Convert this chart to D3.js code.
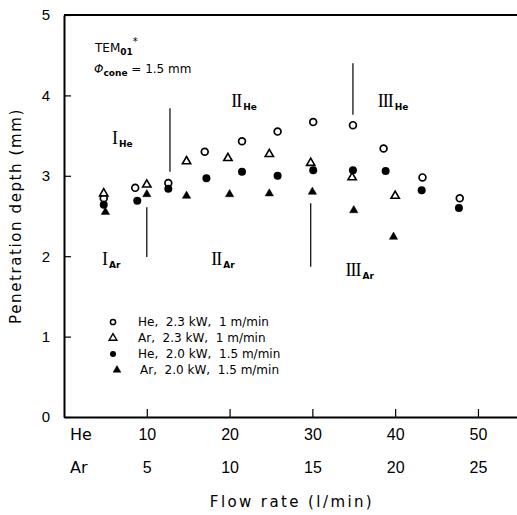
<!DOCTYPE html>
<html>
<head>
<meta charset="utf-8">
<script src="https://cdn.jsdelivr.net/npm/d3@7"></script>
<style>
  html, body { margin: 0; padding: 0; background: #fff; }
  svg { display: block; font-family: 'DejaVu Sans', sans-serif; }
  .legend text { white-space: pre; }
</style>
</head>
<body>
<div id="chart"></div>
<script>
// flow rates in l/min of the gas named, depth in mm
const heFlow23 = [4.8, 8.6, 12.6, 17.0, 21.5, 25.8, 30.1, 34.9, 38.6, 43.3, 47.8];
const heDepth23 = [2.72, 2.85, 2.91, 3.30, 3.43, 3.55, 3.67, 3.63, 3.34, 2.98, 2.72];
const arFlow23 = [2.4, 5.0, 7.4, 9.9, 12.4, 14.9, 17.4, 20.0];
const arDepth23 = [2.78, 2.89, 3.18, 3.22, 3.27, 3.16, 2.98, 2.75];
const heFlow20 = [4.8, 8.85, 12.6, 17.2, 21.5, 25.8, 30.1, 34.9, 38.85, 43.2, 47.7];
const heDepth20 = [2.64, 2.69, 2.84, 2.97, 3.05, 3.00, 3.07, 3.07, 3.06, 2.82, 2.60];
const arFlow20 = [2.5, 5.0, 7.4, 10.0, 12.4, 15.0, 17.5, 19.9];
const arDepth20 = [2.55, 2.77, 2.75, 2.77, 2.78, 2.80, 2.57, 2.24];

const heTicks = [10, 20, 30, 40, 50];
const arTicks = [5, 10, 15, 20, 25];
const depthTicks = [0, 1, 2, 3, 4, 5];

const seriesNames = ['He,  2.3 kW,  1 m/min', 'Ar,  2.3 kW,  1 m/min', 'He,  2.0 kW,  1.5 m/min', 'Ar,  2.0 kW,  1.5 m/min'];

// regime boundaries and labels
const boundaries = [
  { gas: 'He', flow: 12.8, from: 3.05, to: 3.84 },
  { gas: 'He', flow: 34.9, from: 3.76, to: 4.40 },
  { gas: 'Ar', flow: 5.0, from: 1.99, to: 2.61 },
  { gas: 'Ar', flow: 14.9, from: 1.87, to: 2.66 }
];
const regimes = [
  { numeral: 'I', gas: 'He', flow: 5.8, depth: 3.39 },
  { numeral: 'II', gas: 'He', flow: 20.2, depth: 3.86 },
  { numeral: 'III', gas: 'He', flow: 37.9, depth: 3.86 },
  { numeral: 'I', gas: 'Ar', flow: 2.3, depth: 1.89 },
  { numeral: 'II', gas: 'Ar', flow: 8.9, depth: 1.89 },
  { numeral: 'III', gas: 'Ar', flow: 17.0, depth: 1.75 }
];

const width = 517;
const height = 515;

const svg = d3.select('#chart').append('svg')
  .attr('width', width)
  .attr('height', height);

const xHe = d3.scaleLinear().domain([0, 54.8]).range([64, 517.7]);
const xAr = d3.scaleLinear().domain([0, 27.4]).range([64, 517.7]);
const y = d3.scaleLinear().domain([0, 5]).range([417, 15]);
const xOf = (gas) => (gas === 'He' ? xHe : xAr);

// axes
const axisY = svg.append('g')
  .attr('transform', `translate(${xHe(0)},0)`)
  .call(d3.axisLeft(y).tickValues(depthTicks).tickSize(-7).tickSizeOuter(0).tickPadding(14).tickFormat(d3.format('d')));
axisY.select('.domain').attr('stroke-width', 2);
axisY.selectAll('.tick line').attr('stroke-width', 1.2);
axisY.selectAll('.tick text').attr('font-size', 15).attr('fill', '#000');

const axisX = svg.append('g')
  .attr('transform', `translate(0,${y(0)})`)
  .call(d3.axisBottom(xHe).tickValues(heTicks).tickSize(-8).tickSizeOuter(0).tickPadding(12));
axisX.select('.domain').attr('stroke-width', 2);
axisX.selectAll('.tick line').attr('stroke-width', 1.2);
axisX.selectAll('.tick text').attr('font-size', 16).attr('fill', '#000');

const axisAr = svg.append('g')
  .attr('transform', `translate(0,${y(0) + 33})`)
  .call(d3.axisBottom(xAr).tickValues(arTicks).tickSize(0).tickPadding(12));
axisAr.select('.domain').remove();
axisAr.selectAll('.tick text').attr('font-size', 16).attr('fill', '#000');

svg.append('line')
  .attr('x1', xHe(0)).attr('x2', xHe.range()[1])
  .attr('y1', y(5)).attr('y2', y(5))
  .attr('stroke', '#000').attr('stroke-width', 2);

svg.append('text').attr('x', 70).attr('y', y(0) + 23).attr('font-size', 16).text('He');
svg.append('text').attr('x', 70).attr('y', y(0) + 56).attr('font-size', 16).text('Ar');

svg.append('text')
  .attr('x', 292).attr('y', 507)
  .attr('text-anchor', 'middle')
  .attr('font-size', 15)
  .attr('letter-spacing', 2.4)
  .text('Flow rate (l/min)');

svg.append('text')
  .attr('transform', `translate(21,${y(2.5)}) rotate(-90)`)
  .attr('text-anchor', 'middle')
  .attr('font-size', 15)
  .attr('letter-spacing', 1.6)
  .text('Penetration depth (mm)');

// boundary lines
svg.append('g').selectAll('line').data(boundaries).join('line')
  .attr('x1', (d) => xOf(d.gas)(d.flow))
  .attr('x2', (d) => xOf(d.gas)(d.flow))
  .attr('y1', (d) => y(d.from))
  .attr('y2', (d) => y(d.to))
  .attr('stroke', '#000')
  .attr('stroke-width', 1.2);

// regime labels
const regimeText = svg.append('g').selectAll('text').data(regimes).join('text')
  .attr('x', (d) => xOf(d.gas)(d.flow))
  .attr('y', (d) => y(d.depth));
regimeText.append('tspan')
  .attr('font-family', '"Liberation Serif", serif')
  .attr('font-size', 18)
  .attr('letter-spacing', -1)
  .text((d) => d.numeral);
regimeText.append('tspan')
  .attr('dx', 2)
  .attr('dy', 3)
  .attr('font-size', 9)
  .attr('font-weight', 'bold')
  .text((d) => d.gas);

// laser annotation
const tem = svg.append('text').attr('x', 95).attr('y', 52).attr('font-size', 12);
tem.append('tspan').text('TEM');
tem.append('tspan').attr('dy', 3).attr('font-size', 9).attr('font-weight', 'bold').text('01');
tem.append('tspan').attr('dy', -10).attr('font-size', 10).text('*');

const phi = svg.append('text').attr('x', 94).attr('y', 73).attr('font-size', 12);
phi.append('tspan').attr('font-style', 'italic').text('Φ');
phi.append('tspan').attr('dy', 3).attr('font-size', 9).attr('font-weight', 'bold').text('cone');
phi.append('tspan').attr('dy', -3).text(' = 1.5 mm');

// markers
const triangle = d3.symbol(d3.symbolTriangle, 30);
const triangleLegend = d3.symbol(d3.symbolTriangle, 26);

const marks = svg.append('g');
const drawCircles = (flows, depths, gas, filled) => {
  marks.append('g').selectAll('circle').data(flows.map((f, i) => [f, depths[i]])).join('circle')
    .attr('cx', (d) => xOf(gas)(d[0]))
    .attr('cy', (d) => y(d[1]))
    .attr('r', filled ? 4 : 3.4)
    .attr('fill', filled ? '#000' : '#fff')
    .attr('stroke', '#000')
    .attr('stroke-width', filled ? 0 : 1.7);
};
const drawTriangles = (flows, depths, gas, filled) => {
  marks.append('g').selectAll('path').data(flows.map((f, i) => [f, depths[i]])).join('path')
    .attr('d', triangle)
    .attr('transform', (d) => `translate(${xOf(gas)(d[0])},${y(d[1])})`)
    .attr('fill', filled ? '#000' : '#fff')
    .attr('stroke', '#000')
    .attr('stroke-width', filled ? 0.5 : 1.6);
};
drawCircles(heFlow23, heDepth23, 'He', false);
drawTriangles(arFlow23, arDepth23, 'Ar', false);
drawCircles(heFlow20, heDepth20, 'He', true);
drawTriangles(arFlow20, arDepth20, 'Ar', true);

// legend
const legend = svg.append('g').attr('class', 'legend');
const rows = legend.selectAll('g').data(seriesNames).join('g')
  .attr('transform', (d, i) => `translate(0,${322 + i * 16})`);
rows.each(function (d, i) {
  const row = d3.select(this);
  if (i % 2 === 0) {
    row.append('circle').attr('cx', 113).attr('cy', 0).attr('r', i === 0 ? 2.6 : 3)
      .attr('fill', i === 0 ? '#fff' : '#000').attr('stroke', '#000').attr('stroke-width', i === 0 ? 1.5 : 0);
  } else {
    row.append('path').attr('d', triangleLegend).attr('transform', `translate(${i === 1 ? 113 : 117},0)`)
      .attr('fill', i === 1 ? '#fff' : '#000').attr('stroke', '#000').attr('stroke-width', i === 1 ? 1.4 : 0.5);
  }
  row.append('text').attr('x', i === 3 ? 140 : 138).attr('y', 4).attr('font-size', 12).text(d);
});
</script>
</body>
</html>
